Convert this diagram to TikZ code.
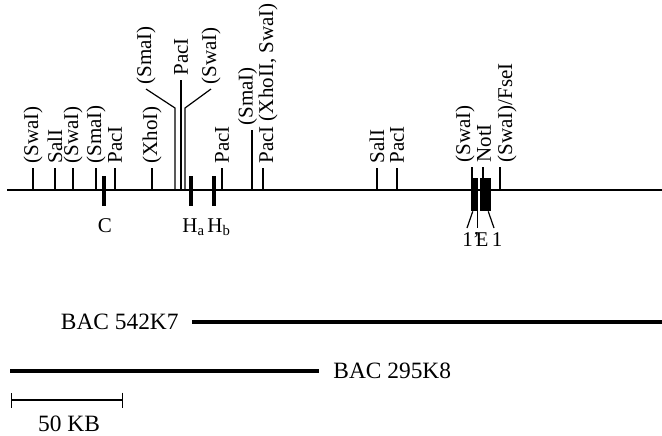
\documentclass[tikz,border=0pt]{standalone}
\usepackage{fontspec}
\setmainfont{Liberation Serif}
\usetikzlibrary{positioning,arrows.meta}

\begin{document}
\begin{tikzpicture}[
    x=0.5pt, y=-0.5pt,
    chrom/.style={line width=0.9pt},
    tick/.style={line width=0.6pt},
    site/.style={rotate=90, anchor=west, inner sep=2pt, font=\fontsize{10.5}{12}\selectfont},
    locus/.style={fill=black, inner sep=0pt, minimum width=1.7pt, minimum height=15pt},
    locuslabel/.style={anchor=base west, inner sep=0pt, font=\fontsize{10.5}{12}\selectfont},
    exon/.style={fill=black, inner sep=0pt, minimum height=16.5pt},
    exonlabel/.style={anchor=base, inner sep=0pt, font=\fontsize{10.5}{12}\selectfont},
    bac/.style={line width=1.6pt},
    baclabel/.style={inner sep=0pt, font=\fontsize{11.7}{14}\selectfont},
    scalebar/.style={line width=0.6pt, {Bar[width=7.5pt]}-{Bar[width=7.5pt]}},
]

\useasboundingbox (0,0) rectangle (662,435);

% Genomic line
\coordinate (left) at (7,190);
\coordinate (right) at (662,190);
\draw[chrom] (left) -- (right);

% Restriction sites (position / top / label shift / name)
\foreach \x/\t/\dx/\lab [count=\i] in {33/168/0/{(SwaI)}, 55/168/0/{SalI}, 73/168/0/{(SwaI)},
    96/168/0/{(SmaI)}, 115/168/0/{PacI}, 152/168/0/{(XhoI)}, 181/80/0/{PacI}, 222/168/0/{PacI},
    252/130/-4.5/{(SmaI)}, 263/168/5/{PacI (XhoII, SwaI)}, 377/168/0/{SalI}, 397/168/0/{PacI},
    500/167/7/{(SwaI)/FseI}} {
  \coordinate (b\i) at (\x,190);
  \node[site] (s\i) at (\x+\dx,\t) {\lab};
  \draw[tick] (b\i) -- (b\i |- s\i.west);
}

% Sites with bent leaders
\coordinate (ba) at (175,190);
\coordinate (ka) at (175,108);
\node[site] (sa) at (146,89) {(SmaI)};
\draw[tick] (ba) -- (ka) -- (sa.west);
\coordinate (bb) at (185,190);
\coordinate (kb) at (185,108);
\node[site] (sb) at (211,89) {(SwaI)};
\draw[tick] (bb) -- (kb) -- (sb.west);

% Loci
\node[locus] (mC) at (104,191) {};
\node[locuslabel] (lC) at (97.5,232) {C};
\node[locus] (mHa) at (191,191) {};
\node[locuslabel] (lHa) at (182,232) {H\textsubscript{a}};
\node[locus] (mHb) at (214,191) {};
\node[locuslabel] (lHb) at (207,232) {H\textsubscript{b}};

% Exons
\node[exon, minimum width=2.75pt] (x1p) at (473.75,194.5) {};
\node[exon, minimum width=5.75pt] (x1) at (485.25,194.5) {};
\coordinate (xEt) at (477.8,178);
\coordinate (xEb) at (477.8,211);
\draw[tick] (xEt) -- (xEb);

\coordinate (b14) at (472,178);
\node[site] (s14) at (465,167) {(SwaI)};
\draw[tick] (b14) -- (b14 |- s14.west);
\coordinate (b15) at (483,178);
\node[site] (s15) at (484,167) {NotI};
\draw[tick] (b15) -- (b15 |- s15.west);

\node[exonlabel] (l1p) at (471,246) {1'};
\node[exonlabel] (lE) at (482,246) {E};
\node[exonlabel] (l1) at (497,246) {1};
\coordinate (t1p) at (467,228);
\coordinate (tE) at (477.8,228);
\coordinate (t1) at (494,228);
\draw[tick] ([xshift=-0.5pt]x1p.south) -- (t1p);
\draw[tick] (xEb) -- (tE);
\draw[tick] ([xshift=1.5pt]x1.south) -- (t1);

% BAC clones
\node[baclabel, anchor=east] (k7) at (179,322) {BAC 542K7};
\coordinate (k7a) at (192,322);
\coordinate (k7b) at (662,322);
\draw[bac] (k7a) -- (k7b);

\node[baclabel, anchor=west] (k8) at (333,371) {BAC 295K8};
\coordinate (k8a) at (10,371);
\coordinate (k8b) at (319,371);
\draw[bac] (k8a) -- (k8b);

% Scale
\coordinate (sc1) at (11,400);
\coordinate (sc2) at (123,400);
\draw[scalebar] (sc1) -- (sc2);
\node[baclabel, anchor=base] (kb50) at (69,431) {50 KB};

\end{tikzpicture}
\end{document}
